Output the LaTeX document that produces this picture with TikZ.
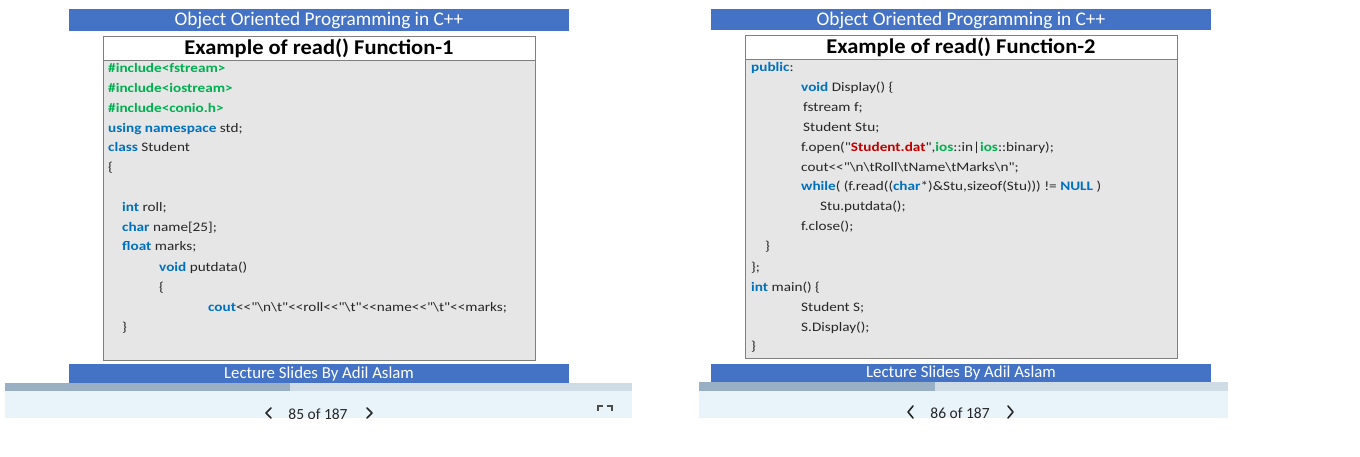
\documentclass[tikz,border=0pt]{standalone}
\usepackage{fontspec}
\setmainfont{Carlito}
\newfontfamily\cf{Carlito}[FakeStretch=1.17]
\newfontfamily\tf{Carlito}[FakeStretch=1.07]
\definecolor{hdrblue}{HTML}{4472C4}
\definecolor{kwblue}{HTML}{0070C0}
\definecolor{kwgreen}{HTML}{00B050}
\definecolor{kwred}{HTML}{C00000}
\definecolor{codebg}{HTML}{E6E6E6}
\definecolor{boxline}{HTML}{7F7F7F}
\definecolor{progdark}{HTML}{98AFC4}
\definecolor{proglight}{HTML}{CFDCE6}
\definecolor{navbg}{HTML}{E8F4FA}
\definecolor{codetxt}{HTML}{262626}
\newcommand{\kw}[1]{{\bfseries\color{kwblue}#1}}
\newcommand{\gk}[1]{{\bfseries\color{kwgreen}#1}}
\newcommand{\rk}[1]{{\bfseries\color{kwred}#1}}
\newcommand{\bs}{\textbackslash}
\tikzset{
  code/.style={anchor=base west, inner sep=0pt, font=\cf\fontsize{13}{15}\selectfont, text=codetxt},
  hdr/.style={anchor=center, inner sep=0pt, font=\fontsize{19.3}{21}\selectfont, text=white},
  ftr/.style={anchor=center, inner sep=0pt, font=\fontsize{16.8}{18}\selectfont, text=white},
  ttl/.style={anchor=center, inner sep=0pt, font=\tf\bfseries\fontsize{21}{23}\selectfont, text=black},
  nav/.style={anchor=center, inner sep=0pt, font=\fontsize{15.5}{17}\selectfont, text=black!85},
  chev/.style={line width=1.6pt, black!85, line cap=round, line join=round}
}
\begin{document}
\begin{tikzpicture}[x=1pt,y=-1pt]
\useasboundingbox (0,0) rectangle (1360,457);
\fill[white] (0,0) rectangle (1360,457);

% ---------- LEFT SLIDE ----------
\fill[hdrblue] (69,9) rectangle (569,31);
\node[hdr] (lhdr) at (319,20) {Object Oriented Programming in C++};
\fill[codebg] (103,61) rectangle (535,360);
\draw[boxline, line width=0.8pt] (103,36) rectangle (535,360);
\draw[boxline, line width=1pt] (103,61) -- (535,61);
\node[ttl] (lttl) at (319,48) {Example of read() Function-1};
\fill[hdrblue] (69,364) rectangle (569,383);
\node[ftr] (lftr) at (319,374) {Lecture Slides By Adil Aslam};
\fill[proglight] (5,383) rectangle (632,391);
\fill[progdark] (5,383) rectangle (290,391);
\fill[navbg] (5,391) rectangle (632,418);
\begin{scope}
\clip (0,391) rectangle (1360,418);
\node[nav] (lnav) at (318,414) {85 of 187};
\draw[chev] (271,408) -- (266,413) -- (271,418);
\draw[chev] (367,408) -- (372,413) -- (367,418);
\draw[black!70, line width=1.4pt] (598,411) -- (598,406) -- (603,406);
\draw[black!70, line width=1.4pt] (607,406) -- (612,406) -- (612,411);
\end{scope}

\node[code] (l1) at (108,73) {\gk{\#include<fstream>}};
\node[code] (l2) at (108,93) {\gk{\#include<iostream>}};
\node[code] (l3) at (108,113) {\gk{\#include<conio.h>}};
\node[code] (l4) at (108,132.5) {\kw{using namespace} std;};
\node[code] (l5) at (108,152) {\kw{class} Student};
\node[code] (l6) at (108,172) {\{};
\node[code] (l7) at (122,212) {\kw{int} roll;};
\node[code] (l8) at (122,231.5) {\kw{char} name[25];};
\node[code] (l9) at (122,251) {\kw{float} marks;};
\node[code] (l10) at (159,271) {\kw{void} putdata()};
\node[code] (l11) at (159,291) {\{};
\node[code] (l12) at (208,311) {\kw{cout}<<"\bs n\bs t"<<roll<<"\bs t"<<name<<"\bs t"<<marks;};
\node[code] (l13) at (122,331) {\}};

% ---------- RIGHT SLIDE ----------
\fill[hdrblue] (711,9) rectangle (1211,30);
\node[hdr] (rhdr) at (961,20) {Object Oriented Programming in C++};
\fill[codebg] (745,60) rectangle (1177,358);
\draw[boxline, line width=0.8pt] (745,35) rectangle (1177,358);
\draw[boxline, line width=1pt] (745,60) -- (1177,60);
\node[ttl] (rttl) at (961,47) {Example of read() Function-2};
\fill[hdrblue] (711,364) rectangle (1211,382);
\node[ftr] (rftr) at (961,373) {Lecture Slides By Adil Aslam};
\fill[proglight] (699,382) rectangle (1228,391);
\fill[progdark] (699,382) rectangle (935,391);
\fill[navbg] (699,391) rectangle (1228,418);
\begin{scope}
\clip (0,391) rectangle (1360,418);
\node[nav] (rnav) at (960,413) {86 of 187};
\draw[chev] (913,406) -- (908,412) -- (913,418);
\draw[chev] (1008,406) -- (1013,412) -- (1008,418);
\end{scope}

\node[code] (r1) at (751,72) {\kw{public}:};
\node[code] (r2) at (801,92) {\kw{void} Display() \{};
\node[code] (r3) at (803,112) {fstream f;};
\node[code] (r4) at (803,132) {Student Stu;};
\node[code] (r5) at (801,152) {f.open("\rk{Student.dat}",\gk{ios}::in|\gk{ios}::binary);};
\node[code] (r6) at (801,172) {cout<<"\bs n\bs tRoll\bs tName\bs tMarks\bs n";};
\node[code] (r7) at (801,191) {\kw{while}( (f.read((\kw{char}*)\&Stu,sizeof(Stu))) != \kw{NULL} )};
\node[code] (r8) at (820,211) {Stu.putdata();};
\node[code] (r9) at (801,231) {f.close();};
\node[code] (r10) at (765,251) {\}};
\node[code] (r11) at (751,271) {\};};
\node[code] (r12) at (751,291) {\kw{int} main() \{};
\node[code] (r13) at (801,311) {Student S;};
\node[code] (r14) at (801,331) {S.Display();};
\node[code] (r15) at (751,350) {\}};
\end{tikzpicture}
\end{document}
